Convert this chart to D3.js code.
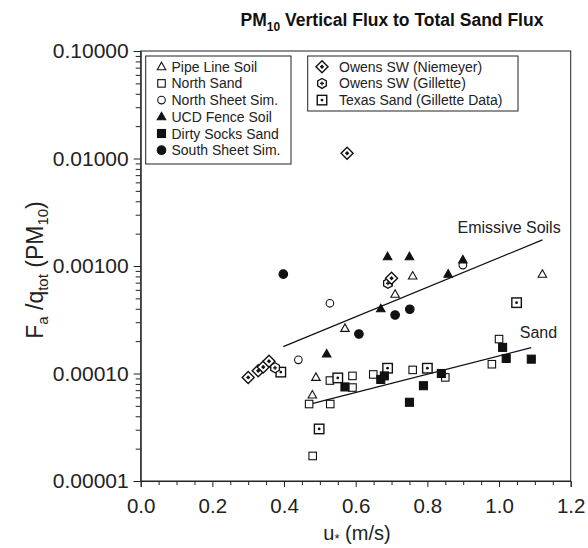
<!DOCTYPE html>
<html><head><meta charset="utf-8">
<script src="https://cdn.jsdelivr.net/npm/d3@7"></script>
<style>body{margin:0;background:#fff;} text{font-family:"Liberation Sans",Arial,Helvetica,sans-serif;}</style>
</head><body>
<svg id="c" width="588" height="548"></svg>
<script>
// ---- data ----
const pipeLineSoil = [[0.759,8.07e-4],[1.121,8.37e-4],[0.710,5.46e-4],[0.570,2.63e-4],[0.489,9.2e-5],[0.479,6.3e-5]];
const northSand = [[1.00,2.09e-4],[0.980,1.22e-4],[0.850,9.2e-5],[0.759,1.08e-4],[0.649,9.8e-5],[0.591,9.5e-5],[0.591,7.4e-5],[0.528,8.6e-5],[0.529,5.2e-5],[0.470,5.2e-5],[0.480,1.71e-5]];
const northSheetSim = [[0.899,1.02e-3],[0.528,4.5e-4],[0.440,1.34e-4]];
const ucdFenceSoil = [[0.689,1.22e-3],[0.750,1.22e-3],[0.858,8.4e-4],[0.899,1.14e-3],[0.670,4.0e-4],[0.519,1.52e-4]];
const dirtySocksSand = [[1.010,1.75e-4],[1.020,1.38e-4],[1.090,1.36e-4],[0.839,1.0e-4],[0.789,7.7e-5],[0.750,5.4e-5],[0.670,8.8e-5],[0.680,9.5e-5],[0.570,7.5e-5]];
const southSheetSim = [[0.398,8.4e-4],[0.710,3.5e-4],[0.751,3.96e-4],[0.609,2.33e-4]];
const owensNiemeyer = [[0.300,9.2e-5],[0.328,1.06e-4],[0.342,1.15e-4],[0.358,1.3e-4],[0.576,1.12e-2],[0.700,7.7e-4]];
const owensGillette = [[0.375,1.13e-4],[0.690,6.9e-4]];
const texasSand = [[0.391,1.03e-4],[0.498,3.05e-5],[0.550,9.1e-5],[0.689,1.12e-4],[0.800,1.12e-4],[1.049,4.56e-4]];
const emissiveLine = [[0.398,1.78e-4],[1.121,1.75e-3]];
const sandLine = [[0.470,5.17e-5],[1.090,1.74e-4]];
const xTicks = [0.0,0.2,0.4,0.6,0.8,1.0,1.2];
const yTicks = [1e-5,1e-4,1e-3,1e-2,1e-1];
const legend1 = [["Pipe Line Soil","triOpen"],["North Sand","sqOpen"],["North Sheet Sim.","circOpen"],["UCD Fence Soil","triFill"],["Dirty Socks Sand","sqFill"],["South Sheet Sim.","circFill"]];
const legend2 = [["Owens SW (Niemeyer)","diamond"],["Owens SW (Gillette)","hexDot"],["Texas Sand (Gillette Data)","sqDot"]];

// ---- layout ----
const svg = d3.select("#c");
const L=140.7, R=570.7, T=51, B=481;
const x = d3.scaleLinear().domain([0,1.2]).range([L,R]);
const y = d3.scaleLog().domain([1e-5,1e-1]).range([B,T]);

// axes
const xAxis = d3.axisBottom(x).tickValues(xTicks).tickFormat(d3.format(".1f")).tickSize(6).tickPadding(11);
const gx = svg.append("g").attr("transform",`translate(0,${B})`).call(xAxis);
const xMinor = d3.range(0,1.2001,0.05).filter(v=>Math.abs(v/0.2-Math.round(v/0.2))>1e-6);
svg.append("g").attr("transform",`translate(0,${B})`).call(d3.axisBottom(x).tickValues(xMinor).tickFormat("").tickSize(4)).select(".domain").remove();

const yAxis = d3.axisLeft(y).tickValues(yTicks).tickFormat(d3.format(".5f")).tickSize(7).tickPadding(5);
const gy = svg.append("g").attr("transform",`translate(${L},0)`).call(yAxis);
const yMinor=[];
for(let e=-5;e<-1;e++) for(let m=2;m<10;m++) yMinor.push(m*Math.pow(10,e));
svg.append("g").attr("transform",`translate(${L},0)`).call(d3.axisLeft(y).tickValues(yMinor).tickFormat("").tickSize(5)).select(".domain").remove();

svg.selectAll(".domain").attr("stroke","#222");
svg.selectAll(".tick line").attr("stroke","#222");
gx.selectAll("text").attr("font-size",20.5).attr("fill","#222");
gy.selectAll("text").attr("font-size",21).attr("fill","#222");

// frame
svg.append("rect").attr("x",L).attr("y",T).attr("width",R-L).attr("height",B-T).attr("fill","none").attr("stroke","#222").attr("stroke-width",1);

// symbols
function sym(g, type, cx, cy){
  const k="#111";
  if(type==="triOpen"||type==="triFill"){
    const h=7.5,w=8.5;
    g.append("path").attr("d",`M${cx},${cy-h*0.6}L${cx+w/2},${cy+h*0.4}L${cx-w/2},${cy+h*0.4}Z`)
     .attr("fill",type==="triFill"?k:"#fff").attr("stroke",k).attr("stroke-width",1.1);
  } else if(type==="sqOpen"||type==="sqFill"){
    const s=type==="sqFill"?8:7.5;
    g.append("rect").attr("x",cx-s/2).attr("y",cy-s/2).attr("width",s).attr("height",s)
     .attr("fill",type==="sqFill"?k:"#fff").attr("stroke",k).attr("stroke-width",1.1);
  } else if(type==="circOpen"||type==="circFill"){
    g.append("circle").attr("cx",cx).attr("cy",cy).attr("r",type==="circFill"?4.3:3.8)
     .attr("fill",type==="circFill"?k:"#fff").attr("stroke",k).attr("stroke-width",1.1);
  } else if(type==="diamond"){
    const r=6;
    g.append("path").attr("d",`M${cx},${cy-r}L${cx+r},${cy}L${cx},${cy+r}L${cx-r},${cy}Z`).attr("fill","#fff").attr("stroke",k).attr("stroke-width",1.4);
    const r2=2.2;
    g.append("path").attr("d",`M${cx},${cy-r2}L${cx+r2},${cy}L${cx},${cy+r2}L${cx-r2},${cy}Z`).attr("fill",k);
  } else if(type==="hexDot"){
    const r=5;
    const pts=d3.range(6).map(i=>{const a=Math.PI/6+i*Math.PI/3;return [cx+r*Math.cos(a),cy+r*Math.sin(a)];});
    g.append("path").attr("d","M"+pts.join("L")+"Z").attr("fill","#fff").attr("stroke",k).attr("stroke-width",1.3);
    g.append("path").attr("d",`M${cx-2},${cy}H${cx+2}M${cx},${cy-2}V${cy+2}`).attr("stroke",k).attr("stroke-width",1.3);
  } else if(type==="sqDot"){
    const s=9.5;
    g.append("rect").attr("x",cx-s/2).attr("y",cy-s/2).attr("width",s).attr("height",s).attr("fill","#fff").attr("stroke",k).attr("stroke-width",1.4);
    g.append("circle").attr("cx",cx).attr("cy",cy).attr("r",1.4).attr("fill",k);
  }
}

// fit lines
const line = d3.line().x(d=>x(d[0])).y(d=>y(d[1]));
svg.append("path").attr("d",line(emissiveLine)).attr("fill","none").attr("stroke","#111").attr("stroke-width",1.2);
svg.append("path").attr("d",line(sandLine)).attr("fill","none").attr("stroke","#111").attr("stroke-width",1.2);

// points
const series = [[pipeLineSoil,"triOpen"],[northSand,"sqOpen"],[northSheetSim,"circOpen"],[texasSand,"sqDot"],[owensGillette,"hexDot"],[owensNiemeyer,"diamond"],[ucdFenceSoil,"triFill"],[dirtySocksSand,"sqFill"],[southSheetSim,"circFill"]];
const gp = svg.append("g");
series.forEach(([data,type])=>data.forEach(d=>sym(gp,type,x(d[0]),y(d[1]))));

// line labels
svg.append("text").attr("x",x(1.172)).attr("y",y(2.03e-3)).attr("text-anchor","end").attr("font-size",16).attr("fill","#222").text("Emissive Soils");
svg.append("text").attr("x",x(1.162)).attr("y",y(2.14e-4)).attr("text-anchor","end").attr("font-size",16).attr("fill","#222").text("Sand");

// legends
function legend(x0,y0,w,h,items,symX,txtX){
  svg.append("rect").attr("x",x0).attr("y",y0).attr("width",w).attr("height",h).attr("fill","#fff").attr("stroke","#222").attr("stroke-width",1);
  items.forEach((it,i)=>{
    const cy=y0+10.7+i*16.7;
    sym(svg,it[1],symX,cy);
    svg.append("text").attr("x",txtX).attr("y",cy+5).attr("font-size",14).attr("fill","#222").text(it[0]);
  });
}
legend(145.7,56,145.3,108,legend1,161.5,171.5);
legend(307.7,56,210.3,55,legend2,322,339);

// title
const title = svg.append("text").attr("x",392).attr("y",26).attr("text-anchor","middle").attr("font-size",17.5).attr("font-weight","bold").attr("fill","#111");
title.append("tspan").text("PM");
title.append("tspan").attr("font-size",12).attr("dy",5).text("10");
title.append("tspan").attr("dy",-5).text(" Vertical Flux to Total Sand Flux");

// x label
const xl = svg.append("text").attr("x",357).attr("y",540).attr("text-anchor","middle").attr("font-size",20).attr("fill","#222");
xl.append("tspan").text("u");
xl.append("tspan").attr("font-size",13).attr("dy",3).text("*");
xl.append("tspan").attr("dy",-3).text(" (m/s)");

// y label
const yl = svg.append("text").attr("transform",`translate(43,270) rotate(-90)`).attr("text-anchor","middle").attr("font-size",23).attr("fill","#222");
yl.append("tspan").text("F");
yl.append("tspan").attr("font-size",15).attr("dy",5).text("a");
yl.append("tspan").attr("dy",-5).text(" /q");
yl.append("tspan").attr("font-size",15).attr("dy",5).text("tot");
yl.append("tspan").attr("dy",-5).text(" (PM");
yl.append("tspan").attr("font-size",15).attr("dy",5).text("10");
yl.append("tspan").attr("dy",-5).text(")");
</script>
</body></html>
